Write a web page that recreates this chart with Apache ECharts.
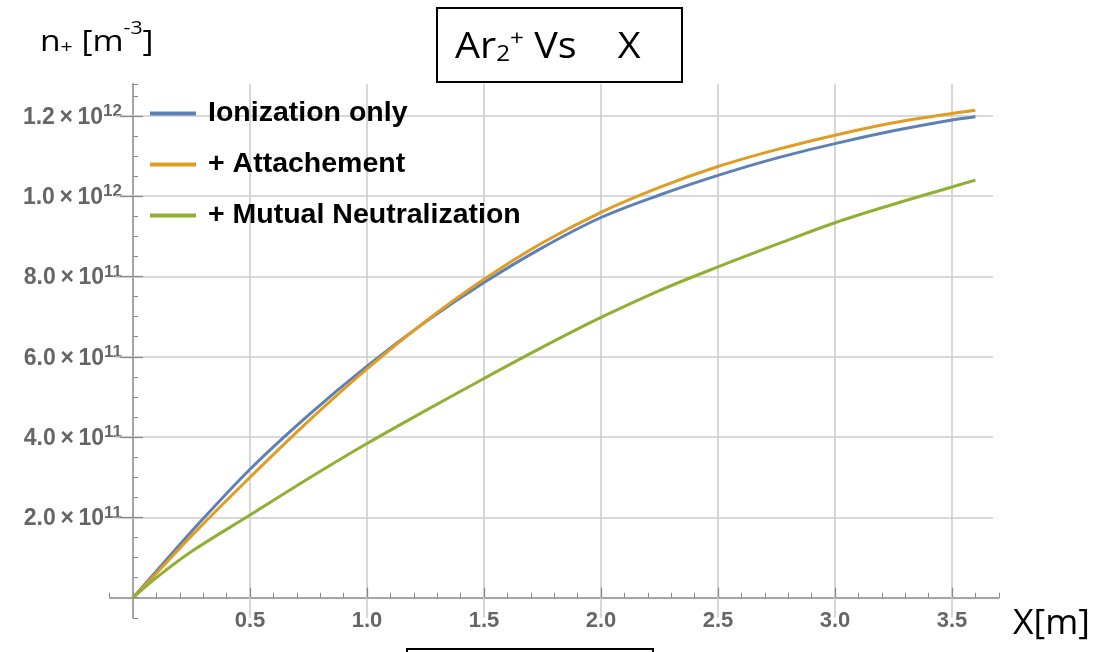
<!DOCTYPE html>
<html>
<head>
<meta charset="utf-8">
<script src="https://cdn.jsdelivr.net/npm/echarts@6/dist/echarts.min.js"></script>
<style>html,body{margin:0;padding:0;background:#fff;}#c{width:1102px;height:652px;}</style>
</head>
<body>
<div id="c"></div>
<script>
// ---- data ----
const xValues = [0, 0.1, 0.25, 0.5, 0.75, 1.0, 1.25, 1.5, 1.75, 2.0, 2.25, 2.5, 2.75, 3.0, 3.25, 3.5, 3.6];
const ionizationOnly = [0, 0.66e11, 1.65e11, 3.2e11, 4.55e11, 5.77e11, 6.87e11, 7.85e11, 8.72e11, 9.47e11, 10.03e11, 10.52e11, 10.95e11, 11.31e11, 11.63e11, 11.90e11, 11.98e11];
const attachement = [0, 0.61e11, 1.54e11, 3.0e11, 4.4e11, 5.7e11, 6.88e11, 7.93e11, 8.84e11, 9.6e11, 10.22e11, 10.74e11, 11.16e11, 11.52e11, 11.83e11, 12.06e11, 12.14e11];
const mutualNeutralization = [0, 0.5e11, 1.15e11, 2.06e11, 2.97e11, 3.84e11, 4.66e11, 5.46e11, 6.24e11, 6.98e11, 7.65e11, 8.24e11, 8.80e11, 9.34e11, 9.80e11, 10.23e11, 10.40e11];
const seriesNames = ['Ionization only', '+ Attachement', '+ Mutual Neutralization'];
const seriesColors = ['#5E81B5', '#E19C24', '#8FB032'];
const xMajorTicks = [0.5, 1.0, 1.5, 2.0, 2.5, 3.0, 3.5];
const yMajorTicks = [2e11, 4e11, 6e11, 8e11, 1.0e12, 1.2e12];

// plot range (Mathematica-like padding)
const xMin = -0.1, xMax = 3.7, xStep = 0.1;
const yMin = -0.5e11, yMax = 1.28e12, yStep = 0.5e11;
const gridXFrom = -0.077, gridXTo = 3.675;

const pair = (a, b) => xValues.map((x, i) => [x, b[i]]);

const gridLines = [];
xMajorTicks.forEach(x => gridLines.push([{coord: [x, yMin]}, {coord: [x, yMax]}]));
yMajorTicks.forEach(y => gridLines.push([{coord: [gridXFrom, y]}, {coord: [gridXTo, y]}]));
const majorTickMarks = [];
yMajorTicks.forEach(y => majorTickMarks.push([{coord: [-0.055, y]}, {coord: [0.043, y]}]));
xMajorTicks.forEach(x => majorTickMarks.push([{coord: [x, 0]}, {coord: [x, 0.25e11]}]));

function yLabel(v) {
  if (v <= 0) return '';
  const r = v / 2e11;
  if (Math.abs(r - Math.round(r)) > 1e-6) return '';
  const e = Math.floor(Math.log10(v) + 1e-9);
  const m = (v / Math.pow(10, e)).toFixed(1);
  return '{a|' + m + '\u2009×\u200910}{b|' + e + '}';
}
function xLabel(v) {
  if (v <= 0) return '';
  const r = v * 2;
  if (Math.abs(r - Math.round(r)) > 1e-6) return '';
  return v.toFixed(1);
}

const chart = echarts.init(document.getElementById('c'), null, {renderer: 'canvas'});
const lineSeries = [ionizationOnly, attachement, mutualNeutralization].map((d, i) => ({
  name: seriesNames[i],
  type: 'line',
  data: pair(xValues, d),
  smooth: 0.35,
  showSymbol: false,
  symbol: 'none',
  z: 3,
  lineStyle: {color: seriesColors[i], width: 3},
  itemStyle: {color: seriesColors[i]}
}));

chart.setOption({
  animation: false,
  backgroundColor: '#fff',
  grid: {left: 109.6, right: 103.2, top: 83.8, bottom: 34.2},
  xAxis: {
    type: 'value', min: xMin, max: xMax, interval: xStep,
    axisLine: {onZero: true, lineStyle: {color: '#888', width: 1.5}},
    axisTick: {inside: true, length: 5, lineStyle: {color: '#888', width: 1}},
    axisLabel: {formatter: xLabel, color: '#666', fontSize: 22, fontWeight: 'bold', fontFamily: 'Liberation Sans', margin: -8, showMinLabel: true, showMaxLabel: true},
    splitLine: {show: false}
  },
  yAxis: {
    type: 'value', min: yMin, max: yMax, interval: yStep,
    axisLine: {onZero: true, lineStyle: {color: '#888', width: 1.5}},
    axisTick: {inside: true, length: 5, lineStyle: {color: '#888', width: 1}},
    axisLabel: {
      formatter: yLabel, margin: -12.4,
      rich: {
        a: {color: '#666', fontSize: 23, fontWeight: 'bold', fontFamily: 'Liberation Sans', lineHeight: 26, verticalAlign: 'bottom'},
        b: {color: '#666', fontSize: 17, fontWeight: 'bold', fontFamily: 'Liberation Sans', lineHeight: 26, verticalAlign: 'top', padding: [0, 0, 9, 0]}
      }
    },
    splitLine: {show: false}
  },
  legend: {
    orient: 'vertical', left: 145, top: 94,
    data: seriesNames,
    icon: 'rect', itemWidth: 46, itemHeight: 4, itemGap: 22,
    textStyle: {color: '#000', fontSize: 28.5, fontWeight: 'bold', fontFamily: 'Liberation Sans', padding: [0, 0, 0, 7]},
    selectedMode: false
  },
  series: [
    {
      name: '', type: 'line', data: [], z: 1, silent: true,
      markLine: {
        silent: true, z: 1, symbol: ['none', 'none'], animation: false,
        label: {show: false}, emphasis: {disabled: true},
        lineStyle: {color: '#cdcdcd', width: 1.6, type: 'solid'},
        data: gridLines
      }
    },
    {
      name: ' ', type: 'line', data: [], z: 2, silent: true,
      markLine: {
        silent: true, z: 2, symbol: ['none', 'none'], animation: false,
        label: {show: false}, emphasis: {disabled: true},
        lineStyle: {color: '#8a8a8a', width: 1.3, type: 'solid'},
        data: majorTickMarks
      }
    }
  ].concat(lineSeries),
  graphic: [
    {type: 'rect', shape: {x: 437, y: 8, width: 245, height: 74}, style: {fill: 'none', stroke: '#000', lineWidth: 2}, z: 10},
    {type: 'text', x: 455, y: 22, scaleX: 1.1, z: 10, style: {
      text: '{m|Ar}{s|2}{p|+}{m| Vs    X}', align: 'left', verticalAlign: 'top',
      rich: {
        m: {fontSize: 36, fontFamily: 'Open Sans', fill: '#000', lineHeight: 44, verticalAlign: 'bottom'},
        s: {fontSize: 22, fontFamily: 'Open Sans', fill: '#000', lineHeight: 44, verticalAlign: 'bottom'},
        p: {fontSize: 22, fontFamily: 'Open Sans', fill: '#000', lineHeight: 44, verticalAlign: 'top', padding: [6, 0, 0, 0]}
      }
    }},
    {type: 'text', x: 40, y: 17, scaleX: 1.12, z: 10, style: {
      text: '{m|n}{s|+}{m| [m}{p|-3}{m|]}', align: 'left', verticalAlign: 'top',
      rich: {
        m: {fontSize: 30, fontFamily: 'Open Sans', fill: '#000', lineHeight: 40, verticalAlign: 'bottom'},
        s: {fontSize: 19, fontFamily: 'Open Sans', fill: '#000', lineHeight: 40, verticalAlign: 'bottom'},
        p: {fontSize: 19, fontFamily: 'Open Sans', fill: '#000', lineHeight: 40, verticalAlign: 'top', padding: [2, 0, 0, 0]}
      }
    }},
    {type: 'text', x: 1013, y: 607, scaleX: 1.05, z: 10, style: {text: 'X[m]', fontSize: 34, fontFamily: 'Open Sans', fill: '#000', align: 'left', verticalAlign: 'top'}},
    {type: 'rect', shape: {x: 407, y: 649, width: 246, height: 20}, style: {fill: 'none', stroke: '#000', lineWidth: 2}, z: 10}
  ]
});
</script>
</body>
</html>
